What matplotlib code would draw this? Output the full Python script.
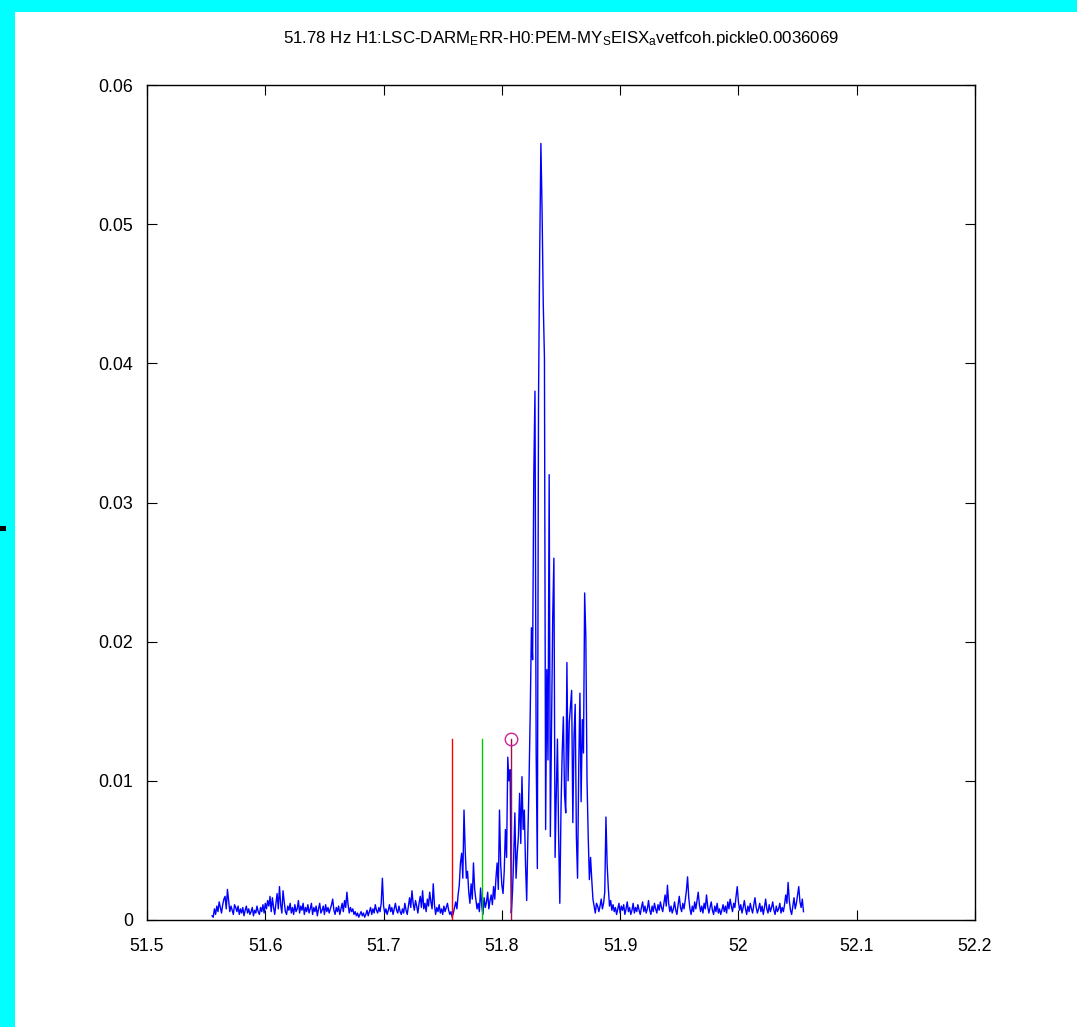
import numpy as np
import matplotlib
matplotlib.use("Agg")
import matplotlib.pyplot as plt
from matplotlib.patches import Rectangle

# ---- data ----
f_start = 51.555
f_step = 0.001
coh = [
    0.0003,0.0002,0.0008,0.0004,0.0010,0.0006,0.0013,0.0009,0.0005,0.0011,0.0015,0.0017,0.0008,0.0022,0.0014,0.0006,0.0010,0.0007,0.0004,0.0011,
    0.0009,0.0006,0.0010,0.0004,0.0008,0.0005,0.0009,0.0003,0.0007,0.0010,0.0005,0.0008,0.0004,0.0006,0.0009,0.0003,0.0007,0.0005,0.0010,0.0006,
    0.0004,0.0009,0.0006,0.0011,0.0005,0.0012,0.0008,0.0014,0.0010,0.0017,0.0006,0.0016,0.0009,0.0004,0.0012,0.0019,0.0008,0.0024,0.0011,0.0005,
    0.0021,0.0013,0.0006,0.0004,0.0010,0.0007,0.0012,0.0005,0.0009,0.0004,0.0011,0.0006,0.0008,0.0014,0.0005,0.0010,0.0007,0.0012,0.0004,0.0009,
    0.0006,0.0011,0.0005,0.0008,0.0012,0.0004,0.0009,0.0006,0.0010,0.0003,0.0008,0.0012,0.0005,0.0007,0.0010,0.0004,0.0011,0.0006,0.0009,0.0005,
    0.0008,0.0011,0.0015,0.0007,0.0004,0.0009,0.0006,0.0010,0.0004,0.0008,0.0012,0.0006,0.0014,0.0009,0.0020,0.0011,0.0005,0.0009,0.0006,0.0008,
    0.0004,0.0006,0.0003,0.0005,0.0002,0.0004,0.0006,0.0003,0.0005,0.0002,0.0004,0.0007,0.0003,0.0006,0.0009,0.0004,0.0008,0.0005,0.0011,0.0007,
    0.0005,0.0009,0.0006,0.0012,0.0030,0.0010,0.0005,0.0008,0.0004,0.0007,0.0011,0.0006,0.0009,0.0004,0.0008,0.0012,0.0007,0.0005,0.0010,0.0006,
    0.0004,0.0008,0.0005,0.0012,0.0007,0.0004,0.0010,0.0016,0.0009,0.0021,0.0012,0.0007,0.0014,0.0010,0.0005,0.0012,0.0017,0.0009,0.0021,0.0008,
    0.0012,0.0006,0.0015,0.0010,0.0020,0.0013,0.0008,0.0026,0.0011,0.0004,0.0009,0.0006,0.0011,0.0005,0.0008,0.0004,0.0010,0.0006,0.0009,0.0012,
    0.0007,0.0004,0.0006,0.0002,0.0005,0.0009,0.0013,0.0008,0.0018,0.0025,0.0041,0.0048,0.0030,0.0079,0.0050,0.0030,0.0035,0.0020,0.0012,0.0026,
    0.0015,0.0041,0.0022,0.0015,0.0008,0.0012,0.0006,0.0023,0.0010,0.0004,0.0016,0.0009,0.0013,0.0020,0.0008,0.0014,0.0018,0.0011,0.0024,0.0015,
    0.0030,0.0041,0.0022,0.0079,0.0040,0.0025,0.0019,0.0035,0.0065,0.0045,0.0117,0.0100,0.0108,0.0005,0.0020,0.0045,0.0077,0.0030,0.0048,0.0060,
    0.0091,0.0055,0.0103,0.0065,0.0079,0.0040,0.0014,0.0060,0.0100,0.0150,0.0210,0.0187,0.0320,0.0380,0.0120,0.0037,0.0375,0.0480,0.0558,0.0510,
    0.0443,0.0404,0.0065,0.0180,0.0115,0.0320,0.0060,0.0140,0.0218,0.0260,0.0045,0.0090,0.0130,0.0060,0.0012,0.0080,0.0120,0.0146,0.0090,0.0077,
    0.0185,0.0100,0.0142,0.0153,0.0165,0.0070,0.0132,0.0155,0.0060,0.0030,0.0110,0.0163,0.0085,0.0144,0.0120,0.0235,0.0203,0.0100,0.0060,0.0029,
    0.0045,0.0029,0.0015,0.0010,0.0005,0.0012,0.0010,0.0006,0.0010,0.0015,0.0008,0.0012,0.0020,0.0074,0.0040,0.0023,0.0010,0.0014,0.0007,0.0011,
    0.0006,0.0009,0.0004,0.0008,0.0012,0.0005,0.0010,0.0007,0.0011,0.0004,0.0008,0.0013,0.0006,0.0009,0.0004,0.0007,0.0012,0.0005,0.0009,0.0006,
    0.0011,0.0007,0.0004,0.0009,0.0013,0.0006,0.0010,0.0005,0.0008,0.0014,0.0007,0.0004,0.0010,0.0006,0.0012,0.0008,0.0005,0.0011,0.0007,0.0013,
    0.0009,0.0006,0.0012,0.0018,0.0010,0.0025,0.0012,0.0006,0.0010,0.0005,0.0008,0.0013,0.0007,0.0004,0.0011,0.0017,0.0009,0.0006,0.0012,0.0008,
    0.0014,0.0021,0.0031,0.0016,0.0008,0.0004,0.0010,0.0006,0.0013,0.0008,0.0014,0.0020,0.0011,0.0006,0.0010,0.0005,0.0012,0.0008,0.0018,0.0010,
    0.0005,0.0009,0.0013,0.0007,0.0004,0.0010,0.0006,0.0012,0.0005,0.0008,0.0004,0.0007,0.0011,0.0006,0.0010,0.0005,0.0013,0.0008,0.0015,0.0010,
    0.0006,0.0012,0.0009,0.0017,0.0024,0.0013,0.0007,0.0011,0.0005,0.0009,0.0014,0.0008,0.0004,0.0010,0.0006,0.0012,0.0008,0.0005,0.0011,0.0016,
    0.0009,0.0005,0.0008,0.0012,0.0006,0.0010,0.0004,0.0009,0.0015,0.0008,0.0005,0.0011,0.0006,0.0009,0.0013,0.0007,0.0004,0.0010,0.0006,0.0008,
    0.0012,0.0005,0.0009,0.0006,0.0011,0.0018,0.0012,0.0027,0.0014,0.0007,0.0004,0.0010,0.0016,0.0008,0.0012,0.0018,0.0024,0.0013,0.0009,0.0015,
    0.0006,
]
freq = f_start + f_step * np.arange(len(coh))

marker_freqs = [51.7578, 51.7828, 51.8078]
marker_height = 0.013
marker_colors = ["#ff0000", "#00cc00", "#a0104a"]

xticks = [51.5, 51.6, 51.7, 51.8, 51.9, 52.0, 52.1, 52.2]
xticklabels = ["51.5", "51.6", "51.7", "51.8", "51.9", "52", "52.1", "52.2"]
yticks = [0, 0.01, 0.02, 0.03, 0.04, 0.05, 0.06]
yticklabels = ["0", "0.01", "0.02", "0.03", "0.04", "0.05", "0.06"]

title = (r"51.78 Hz H1:LSC-DARM$_{\rm E}$RR-H0:PEM-MY$_{\rm S}$EISX$_{\rm a}$"
         r"vetfcoh.pickle0.0036069")

# ---- style ----
fam = ["Liberation Sans", "DejaVu Sans"]
plt.rcParams["font.family"] = fam
plt.rcParams["mathtext.fontset"] = "custom"
plt.rcParams["mathtext.rm"] = "Liberation Sans"
plt.rcParams["mathtext.it"] = "Liberation Sans"
plt.rcParams["mathtext.bf"] = "Liberation Sans"

W, H = 1077, 1027
fig = plt.figure(figsize=(W / 100, H / 100), dpi=100)
fig.patch.set_facecolor("#00ffff")
fig.patches.append(Rectangle((15 / W, 0), 1, (H - 12) / H, transform=fig.transFigure,
                             facecolor="white", edgecolor="none", zorder=-10))
fig.patches.append(Rectangle((0, (H - 531) / H), 6 / W, 5 / H, transform=fig.transFigure,
                             facecolor="black", edgecolor="none", zorder=-5))

ax = fig.add_axes([147 / W, (H - 920) / H, 828 / W, 835 / H])
ax.set_zorder(5)
ax.set_facecolor("white")

ax.plot(freq, coh, color="#0000ff", lw=1.0, zorder=2)
for fx, c in zip(marker_freqs, marker_colors):
    ax.plot([fx, fx], [0, marker_height], color=c, lw=1.0, zorder=3)
ax.plot([marker_freqs[2]], [marker_height], marker="o", ms=9, mfc="none",
        mec="#d0209a", mew=1.0, zorder=4)

ax.set_xlim(51.5, 52.2)
ax.set_ylim(0, 0.06)
ax.set_xticks(xticks)
ax.set_xticklabels(xticklabels)
ax.set_yticks(yticks)
ax.set_yticklabels(yticklabels)
ax.tick_params(axis="both", direction="in", length=7, width=0.8, top=True, right=True,
               labelsize=12.8, colors="black")
ax.tick_params(axis="x", pad=13)
ax.tick_params(axis="y", pad=10)
for s in ax.spines.values():
    s.set_linewidth(1.0)
    s.set_color("black")

ax.set_title(title, fontsize=12.2, pad=30)

fig.savefig("out.png", dpi=100, facecolor=fig.get_facecolor())
